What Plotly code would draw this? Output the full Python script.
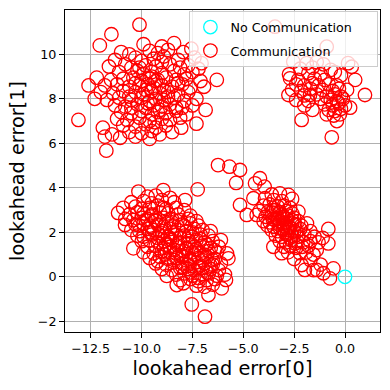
import plotly.graph_objs as go

# upper-left cluster
upper_left = [
    (-10.1, 11.33), (-11.48, 10.9), (-12.05, 10.4), (-9.9, 10.45), (-9.0, 10.35), (-8.4, 10.5),
    (-11.0, 10.1), (-10.6, 10.0), (-9.6, 10.15), (-9.2, 10.05), (-8.7, 10.2), (-7.95, 10.1), (-7.55, 10.25),
    (-11.3, 9.75), (-10.3, 9.85), (-10.0, 9.7), (-9.4, 9.8), (-8.9, 9.9), (-8.2, 9.75), (-7.4, 9.85), (-7.05, 9.6),
    (-11.6, 9.45), (-10.8, 9.55), (-10.5, 9.4), (-9.8, 9.5), (-9.3, 9.45), (-8.6, 9.55), (-8.1, 9.4), (-7.7, 9.5), (-7.2, 9.35),
    (-11.1, 9.2), (-10.2, 9.25), (-9.9, 9.1), (-9.5, 9.2), (-9.0, 9.15), (-8.4, 9.25), (-7.9, 9.1), (-7.5, 9.2),
    (-12.2, 8.95), (-11.5, 8.85), (-10.9, 8.9), (-10.4, 8.95), (-10.0, 8.8), (-9.6, 8.9), (-9.2, 8.85), (-8.8, 8.95),
    (-8.3, 8.85), (-7.8, 8.9), (-7.1, 8.8), (-6.3, 8.85),
    (-12.6, 8.6), (-11.8, 8.6), (-11.2, 8.65), (-10.6, 8.55), (-10.1, 8.6), (-9.7, 8.65), (-9.4, 8.5), (-9.0, 8.6),
    (-8.5, 8.55), (-8.0, 8.65), (-7.6, 8.5), (-6.93, 8.54),
    (-12.0, 8.3), (-11.4, 8.25), (-10.9, 8.35), (-10.3, 8.3), (-9.9, 8.2), (-9.5, 8.35), (-9.1, 8.25), (-8.7, 8.3), (-8.2, 8.2), (-7.7, 8.3),
    (-12.3, 8.0), (-11.7, 7.95), (-11.1, 8.05), (-10.5, 7.95), (-10.0, 8.05), (-9.6, 7.9), (-9.3, 8.0), (-8.9, 7.95),
    (-8.4, 8.05), (-7.9, 7.9), (-7.3, 8.0),
    (-11.3, 7.7), (-10.8, 7.65), (-10.2, 7.75), (-9.8, 7.6), (-9.4, 7.7), (-9.0, 7.65), (-8.6, 7.75), (-8.0, 7.6), (-7.5, 7.7),
    (-11.0, 7.4), (-10.5, 7.35), (-10.0, 7.45), (-9.5, 7.3), (-9.2, 7.4), (-8.8, 7.35), (-8.3, 7.45), (-7.8, 7.3), (-6.85, 7.5),
    (-13.1, 7.05), (-11.2, 7.1), (-10.7, 7.05), (-10.1, 7.15), (-9.6, 7.0), (-9.0, 7.1), (-8.6, 7.05), (-8.1, 7.15),
    (-11.9, 6.7), (-10.9, 6.8), (-10.3, 6.75), (-9.8, 6.85), (-9.3, 6.7), (-8.8, 6.8), (-8.05, 6.7), (-7.3, 6.88),
    (-11.45, 6.4), (-10.6, 6.5), (-10.0, 6.45), (-9.5, 6.55), (-9.1, 6.4), (-8.5, 6.5),
    (-11.8, 6.3), (-11.05, 6.25), (-10.3, 6.3), (-9.6, 6.2), (-11.73, 5.67),
    (-9.8, 8.4), (-9.3, 8.8), (-8.9, 8.4), (-9.5, 9.0), (-10.3, 8.7), (-10.6, 8.1), (-9.7, 7.8), (-9.1, 7.5),
    (-8.7, 8.1), (-8.2, 8.7), (-10.1, 9.4), (-9.0, 9.65), (-10.5, 7.6), (-8.3, 7.6), (-9.35, 6.95),
]

# lower-left cluster
lower_left = [
    (-10.15, 3.83), (-8.93, 3.9), (-7.24, 3.93),
    (-9.7, 3.6), (-9.3, 3.65), (-8.6, 3.55),
    (-10.5, 3.35), (-9.9, 3.4), (-9.5, 3.3), (-9.0, 3.45), (-8.4, 3.35), (-7.86, 3.45),
    (-10.9, 3.1), (-10.3, 3.15), (-10.0, 3.05), (-9.6, 3.1), (-9.2, 3.2), (-8.8, 3.05), (-8.3, 3.1), (-7.9, 3.0),
    (-11.15, 2.87), (-10.6, 2.8), (-10.2, 2.9), (-9.9, 2.85), (-9.5, 2.8), (-9.1, 2.9), (-8.7, 2.85), (-8.2, 2.8), (-7.6, 2.75),
    (-10.8, 2.6), (-10.4, 2.55), (-10.0, 2.65), (-9.7, 2.6), (-9.3, 2.55), (-8.9, 2.65), (-8.5, 2.6), (-8.1, 2.55), (-7.7, 2.6), (-7.3, 2.5),
    (-10.81, 2.33), (-10.3, 2.35), (-9.9, 2.4), (-9.6, 2.3), (-9.2, 2.35), (-8.8, 2.4), (-8.4, 2.3), (-8.0, 2.35), (-7.6, 2.4), (-7.2, 2.3),
    (-10.5, 2.1), (-10.1, 2.05), (-9.7, 2.15), (-9.4, 2.1), (-9.0, 2.05), (-8.6, 2.15), (-8.2, 2.1), (-7.8, 2.05),
    (-7.4, 2.15), (-7.0, 2.1), (-6.6, 2.05),
    (-10.2, 1.85), (-9.9, 1.8), (-9.5, 1.9), (-9.1, 1.85), (-8.7, 1.8), (-8.3, 1.9), (-7.9, 1.85), (-7.5, 1.8), (-7.1, 1.9), (-6.7, 1.85),
    (-9.99, 1.6), (-9.6, 1.65), (-9.2, 1.55), (-8.9, 1.6), (-8.5, 1.65), (-8.1, 1.55), (-7.7, 1.6), (-7.3, 1.65),
    (-6.9, 1.55), (-6.5, 1.6), (-6.1, 1.65),
    (-10.4, 1.28), (-9.7, 1.35), (-9.3, 1.4), (-8.9, 1.3), (-8.6, 1.35), (-8.2, 1.4), (-7.8, 1.3), (-7.4, 1.35),
    (-7.0, 1.4), (-6.6, 1.3), (-6.2, 1.35),
    (-9.9, 1.1), (-9.4, 1.05), (-9.0, 1.15), (-8.6, 1.1), (-8.3, 1.05), (-7.9, 1.15), (-7.5, 1.1), (-7.1, 1.05),
    (-6.7, 1.15), (-6.3, 1.1), (-5.8, 1.05),
    (-9.6, 0.85), (-9.1, 0.9), (-8.7, 0.8), (-8.3, 0.85), (-8.0, 0.9), (-7.6, 0.8), (-7.2, 0.85), (-6.8, 0.9), (-6.4, 0.8), (-5.73, 0.83),
    (-9.3, 0.6), (-8.8, 0.55), (-8.4, 0.65), (-8.0, 0.6), (-7.7, 0.55), (-7.3, 0.65), (-6.9, 0.6), (-6.5, 0.55), (-6.1, 0.6),
    (-9.0, 0.35), (-8.5, 0.3), (-8.1, 0.4), (-7.7, 0.35), (-7.4, 0.3), (-7.0, 0.4), (-6.6, 0.35), (-6.2, 0.3),
    (-8.76, 0.04), (-8.3, 0.1), (-7.9, 0.15), (-7.5, 0.05), (-7.1, 0.1), (-6.7, 0.15), (-6.3, 0.05), (-5.9, 0.1),
    (-8.1, -0.15), (-7.6, -0.1), (-7.2, -0.2), (-6.8, -0.15), (-6.4, -0.1), (-5.85, -0.14),
    (-8.27, -0.37), (-7.94, -0.29), (-7.3, -0.4), (-6.9, -0.45), (-6.5, -0.35), (-6.06, -0.52),
    (-6.71, -0.82), (-7.53, -1.24), (-6.88, -1.79),
    (-9.0, 1.95), (-8.6, 1.7), (-8.2, 1.5), (-7.8, 1.25), (-7.4, 1.0), (-7.0, 0.75), (-6.6, 0.5),
    (-8.8, 1.45), (-8.4, 1.2), (-8.0, 0.95), (-7.6, 0.7), (-7.2, 0.45), (-6.8, 0.2),
    (-8.5, 2.0), (-8.1, 1.75), (-7.7, 1.5), (-7.3, 1.25), (-6.9, 1.0), (-6.5, 0.75),
    (-9.3, 2.5), (-8.9, 2.25), (-8.5, 2.45), (-9.6, 2.0), (-9.2, 1.75), (-8.85, 1.0), (-8.4, 0.75), (-8.0, 0.45),
    (-7.6, 0.2), (-7.2, -0.05), (-7.9, 2.3), (-7.5, 2.0), (-7.1, 1.7), (-6.8, 1.45), (-6.4, 1.2),
    (-9.8, 2.55), (-10.1, 2.3), (-9.5, 2.75), (-8.9, 3.1), (-9.2, 0.7),
]

# lower-right cluster
lower_right = [
    (-6.24, 5.02), (-5.68, 4.95), (-5.16, 4.8), (-5.35, 4.22), (-4.18, 4.43), (-4.42, 4.2), (-3.95, 4.05),
    (-5.16, 3.23), (-4.83, 2.78), (-4.34, 2.78), (-4.5, 3.53), (-3.93, 3.53),
    (-3.6, 3.7), (-3.2, 3.75), (-2.78, 3.68),
    (-3.5, 3.45), (-3.1, 3.4), (-2.6, 3.5),
    (-4.0, 3.2), (-3.7, 3.25), (-3.3, 3.15), (-3.0, 3.2), (-2.7, 3.1),
    (-4.2, 2.95), (-3.8, 2.9), (-3.5, 3.0), (-3.2, 2.9), (-2.9, 2.95), (-2.6, 2.85), (-2.29, 2.93),
    (-3.9, 2.7), (-3.6, 2.75), (-3.35, 2.65), (-3.05, 2.7), (-2.8, 2.75), (-2.5, 2.65),
    (-4.0, 2.5), (-3.7, 2.45), (-3.45, 2.55), (-3.2, 2.5), (-2.9, 2.45), (-2.6, 2.55), (-2.3, 2.5),
    (-3.8, 2.3), (-3.5, 2.25), (-3.25, 2.35), (-3.0, 2.3), (-2.75, 2.25), (-2.45, 2.35), (-2.15, 2.3), (-1.87, 2.4),
    (-3.6, 2.1), (-3.3, 2.05), (-3.05, 2.15), (-2.8, 2.1), (-2.5, 2.05), (-2.2, 2.15), (-1.7, 2.05), (-0.82, 2.15),
    (-3.4, 1.85), (-3.1, 1.8), (-2.85, 1.9), (-2.6, 1.85), (-2.3, 1.8), (-2.0, 1.9), (-1.5, 1.8), (-1.1, 1.75),
    (-3.2, 1.6), (-2.9, 1.55), (-2.65, 1.65), (-2.35, 1.6), (-2.05, 1.55), (-1.7, 1.6), (-1.3, 1.55), (-0.82, 1.5),
    (-3.52, 1.35), (-3.0, 1.35), (-2.7, 1.4), (-2.4, 1.3), (-2.1, 1.35), (-1.8, 1.4), (-1.39, 1.2),
    (-3.11, 1.06), (-2.8, 1.1), (-2.21, 1.06), (-1.9, 1.1), (-1.55, 1.0),
    (-2.5, 0.8), (-1.7, 0.75), (-2.13, 0.53), (-1.2, 0.55),
    (-1.97, 0.31), (-1.55, 0.3), (-1.39, 0.31), (-1.06, 0.16), (-0.57, 0.38), (-0.74, -0.07),
    (-3.4, 3.0), (-3.1, 2.8), (-2.85, 2.6), (-2.6, 2.4), (-3.3, 2.6), (-3.0, 2.4), (-2.7, 2.2),
    (-2.4, 2.0), (-3.6, 2.9), (-3.55, 2.6), (-3.2, 2.2), (-2.95, 2.0), (-2.7, 1.75), (-2.45, 1.5),
]

# upper-right cluster
upper_right = [
    (-3.44, 11.24), (-0.9, 10.34),
    (-2.54, 9.67), (-1.88, 9.6), (-1.39, 9.65), (-1.06, 9.55), (0.15, 9.6), (0.33, 9.44),
    (-2.2, 9.35), (-1.6, 9.4), (-0.7, 9.3),
    (-2.75, 9.1), (-1.8, 9.15), (-1.2, 9.1), (-0.5, 9.2), (-0.2, 9.05),
    (-2.7, 8.92), (-2.3, 8.85), (-1.5, 8.9), (-1.0, 8.85), (0.5, 8.85),
    (-2.4, 8.65), (-2.0, 8.6), (-1.6, 8.7), (-1.3, 8.6), (-0.8, 8.65), (-0.4, 8.6),
    (-2.6, 8.4), (-2.15, 8.35), (-1.7, 8.45), (-1.1, 8.4), (-0.6, 8.35), (-0.3, 8.45), (0.1, 8.4),
    (-2.78, 8.17), (-2.0, 8.15), (-1.72, 8.17), (-1.4, 8.2), (-0.9, 8.1), (-0.5, 8.2), (-0.2, 8.1), (0.98, 8.17),
    (-2.4, 7.95), (-1.8, 7.9), (-1.2, 8.0), (-0.7, 7.95), (-0.4, 7.9), (-0.1, 8.0),
    (-2.0, 7.7), (-1.0, 7.75), (-0.6, 7.7), (-0.3, 7.8), (0.0, 7.7), (0.25, 7.6),
    (-1.6, 7.5), (-0.8, 7.5), (-0.5, 7.45), (-0.2, 7.55),
    (-0.9, 7.3), (-0.55, 7.25), (-0.25, 7.3),
    (-2.13, 7.05), (-0.4, 7.0), (-0.65, 6.27),
]

no_comm_x = [0.0]
no_comm_y = [0.0]

x_ticks = [-12.5, -10.0, -7.5, -5.0, -2.5, 0.0]
y_ticks = [-2, 0, 2, 4, 6, 8, 10]

FONT = "DejaVu Sans"
PAD = "\u00a0" * 5  # widen the legend box a bit, like matplotlib's


def _axis(title, tickvals, rng, fmt, standoff):
    """
    Matplotlib-like axis settings.
    """
    return dict(
        title=dict(text=title, font=dict(size=19.3, color="black"), standoff=standoff),
        automargin=False,
        range=rng,
        tickvals=tickvals,
        tickformat=fmt,
        ticks="outside",
        ticklen=5,
        tickwidth=1,
        tickcolor="black",
        tickfont=dict(size=12.7, color="black"),
        showline=True,
        linecolor="black",
        linewidth=1,
        mirror=True,
        showgrid=True,
        gridcolor="#b0b0b0",
        gridwidth=1,
        zeroline=False,
    )


comm = upper_left + lower_left + lower_right + upper_right

data = [
    go.Scatter(
        name="Communication",
        x=[p[0] for p in comm],
        y=[p[1] for p in comm],
        mode="markers",
        legendgroup="comm",
        legendrank=2,
        marker=dict(symbol="circle-open", size=13.5, color="red", line=dict(width=1.3)),
    ),
    go.Scatter(
        name="No Communication" + PAD,
        x=no_comm_x,
        y=no_comm_y,
        mode="markers",
        legendgroup="nocomm",
        legendrank=1,
        marker=dict(symbol="circle-open", size=13.5, color="cyan", line=dict(width=1.3)),
    ),
]

fig = go.Figure(data=data)
fig.update_layout(
    width=390,
    height=390,
    margin=dict(l=65, r=10, t=10, b=58, autoexpand=False),
    plot_bgcolor="white",
    paper_bgcolor="white",
    font=dict(family=FONT, color="black"),
    xaxis=_axis("lookahead error[0]", x_ticks, [-13.76, 1.72], ".1f", 6),
    yaxis=_axis("lookahead error[1]", y_ticks, [-2.48, 11.99], "d", 8),
    legend=dict(
        x=0.995,
        y=0.996,
        xanchor="right",
        yanchor="top",
        traceorder="grouped",
        tracegroupgap=4,
        bgcolor="rgba(255,255,255,0.8)",
        bordercolor="#cccccc",
        borderwidth=1,
        font=dict(size=12.7),
    ),
    showlegend=True,
)

# the page body has a default 8px margin, drop it so the figure sits at 0,0
fig.write_html(
    "out.html",
    config={"displayModeBar": False},
    post_script="document.body.style.margin='0';",
)
